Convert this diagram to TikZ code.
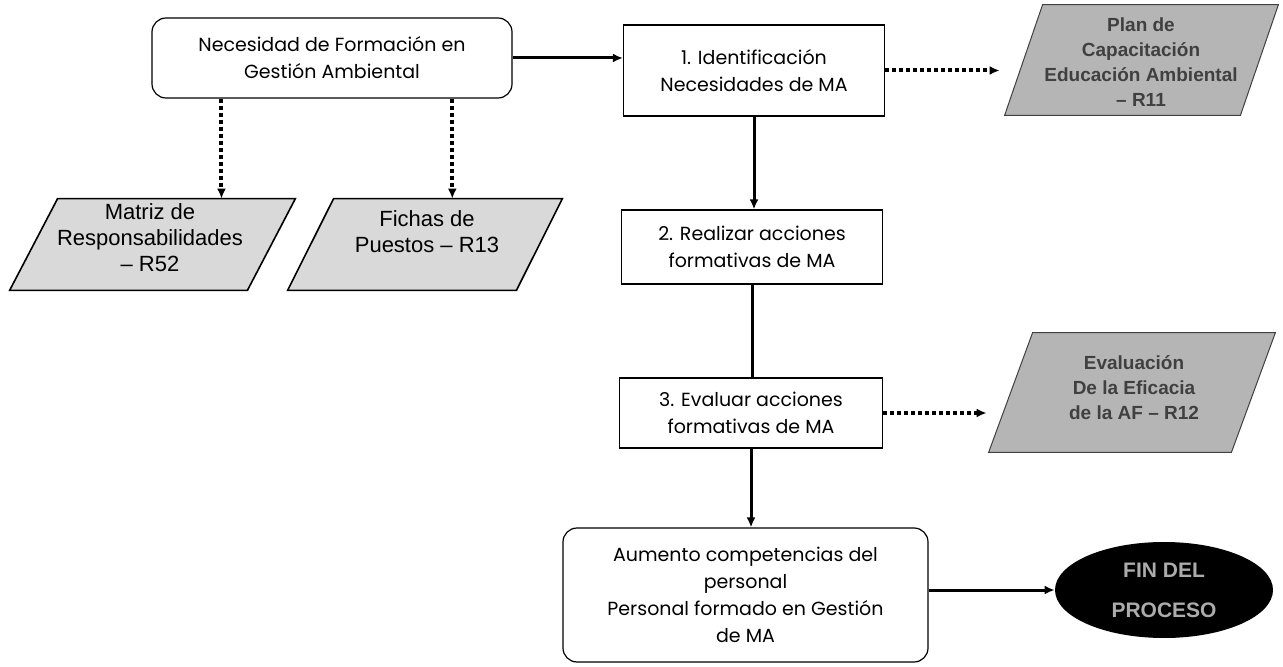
\documentclass[tikz,border=0pt]{standalone}
\usepackage{fontspec}
\setmainfont{Poppins}
\newfontfamily\docfont{Liberation Sans}
\usetikzlibrary{arrows.meta,calc,shapes.geometric}

\begin{document}
\begin{tikzpicture}[x=0.5pt,y=-0.5pt,
  every node/.style={align=center, inner sep=0pt},
  stepbox/.style={draw, line width=0.6pt, fill=white,
    font=\fontsize{9.5}{13.5}\selectfont},
  roundbox/.style={stepbox, rounded corners=7pt},
  frame/.style={rectangle, draw=none},
  docshape/.style={draw, line width=0.8pt, fill=gray!30},
  doctext/.style={font=\docfont\fontsize{11}{13}\selectfont},
  recshape/.style={draw=black!75, line width=0.5pt, fill=gray!58},
  rectext/.style={font=\docfont\bfseries\fontsize{9.5}{12.5}\selectfont, text=black!75},
  flow/.style={line width=1.5pt, -{Latex[length=5pt,width=4.5pt]}},
  link/.style={line width=1.5pt},
  reference/.style={line width=2pt, dash pattern=on 2pt off 1.5pt,
    -{Latex[length=5pt,width=4.5pt]}},
]
\useasboundingbox (0,0) rectangle (1283,667);

% parallelogram drawn inside the frame of node #1, top edge shifted right by #2
\newcommand\slantbox[3]{%
  \draw[#3] (#1.south west) -- ($(#1.north west)+(#2,0)$) -- (#1.north east)
    -- ($(#1.south east)-(#2,0)$) -- cycle;}

% main process
\node[roundbox, minimum width=180pt, minimum height=40pt] (need) at (332,58)
  {Necesidad de Formación en\\Gestión Ambiental};
\node[stepbox, minimum width=130.5pt, minimum height=45.5pt] (s1) at (754,70.5)
  {1. Identificación\\Necesidades de MA};
\node[stepbox, minimum width=130.5pt, minimum height=37pt] (s2) at (752,247)
  {2. Realizar acciones\\formativas de MA};
\node[stepbox, minimum width=131.5pt, minimum height=35pt] (s3) at (751,413)
  {3. Evaluar acciones\\formativas de MA};
\node[roundbox, minimum width=182.5pt, minimum height=67pt] (out) at (745.5,595)
  {Aumento competencias del\\personal\\Personal formado en Gestión\\de MA};
\node[ellipse, fill=black, minimum width=109pt, minimum height=48pt,
  font=\docfont\bfseries\fontsize{10.5}{20}\selectfont, text=gray!65] (end) at (1164,590)
  {FIN DEL\\PROCESO};

% supporting records
\node[frame, minimum width=142.5pt, minimum height=45.5pt] (p1) at (152.5,244.5) {};
\slantbox{p1}{48}{docshape}
\node[doctext] (t1) at (150,238) {Matriz de\\Responsabilidades\\– R52};

\node[frame, minimum width=137pt, minimum height=45.5pt] (p2) at (425,244.5) {};
\slantbox{p2}{46}{docshape}
\node[doctext] (t2) at (427,232) {Fichas de\\Puestos – R13};

\node[frame, minimum width=136.5pt, minimum height=55pt] (p3) at (1141.5,60) {};
\slantbox{p3}{38}{recshape}
\node[rectext] (t3) at (1141,62) {Plan de\\Capacitación\\Educación Ambiental\\– R11};

\node[frame, minimum width=143pt, minimum height=59.5pt] (p4) at (1132,392.5) {};
\slantbox{p4}{44}{recshape}
\node[rectext] (t4) at (1134,388) {Evaluación\\De la Eficacia\\de la AF – R12};

% connectors
\draw[flow] (need.east) -- (need.east -| s1.west);
\draw[flow] (s1.south) -- (s1.south |- s2.north);
\draw[link] (s2.south) -- (s2.south |- s3.north);
\draw[flow] (s3.south) -- (s3.south |- out.north);
\draw[flow] (end.west -| out.east) -- (end.west);

\coordinate (d1) at ($(need.south west)!0.194!(need.south east)$);
\coordinate (d2) at ($(need.south west)!0.833!(need.south east)$);
\draw[reference] (d1) -- (d1 |- p1.north);
\draw[reference] (d2) -- (d2 |- p2.north);
\draw[reference] (s1.east) -- ($(s1.east -| p3.west)+(-5,0)$);
\draw[reference] (s3.east) -- ($(s3.east -| p4.west)+(-2,0)$);
\end{tikzpicture}
\end{document}
